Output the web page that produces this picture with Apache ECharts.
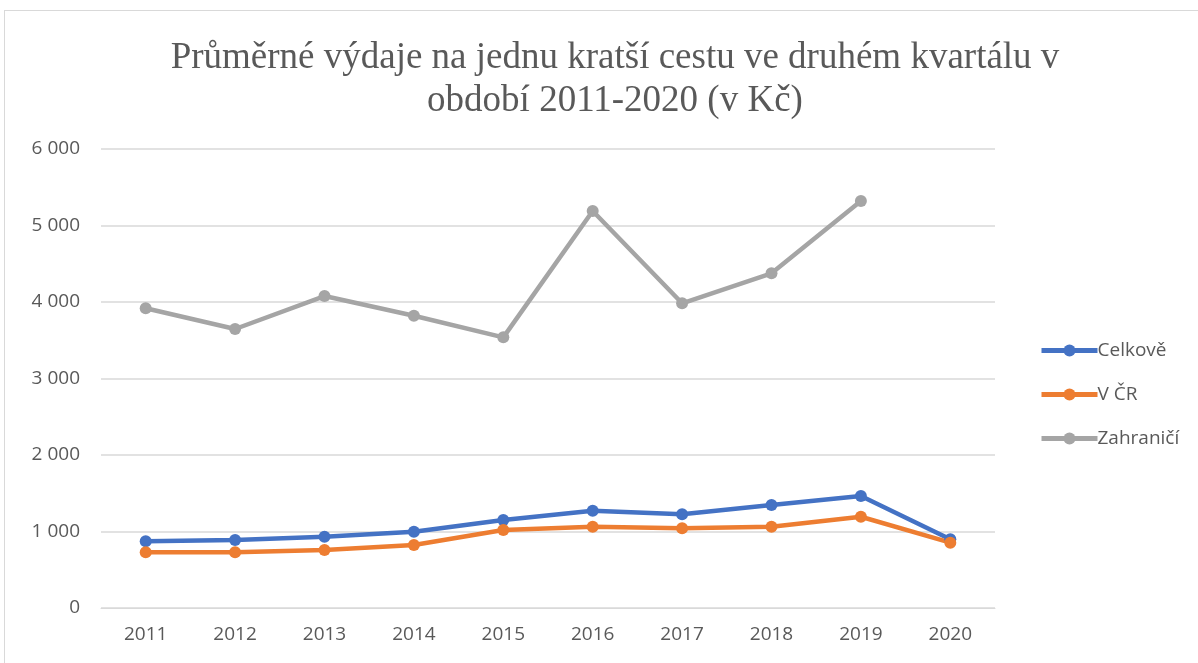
<!DOCTYPE html>
<html>
<head>
<meta charset="utf-8">
<script src="https://cdn.jsdelivr.net/npm/echarts@6/dist/echarts.min.js"></script>
<style>
    html, body { margin: 0; padding: 0; background: #fff; }
    .frame {
        position: absolute; left: 4px; top: 10px; width: 1200px; height: 660px;
        border: 1px solid #d9d9d9; box-sizing: border-box;
    }
    #chart { position: absolute; left: 0; top: 0; width: 1198px; height: 663px; }
</style>
</head>
<body>
<div class="frame"></div>
<div id="chart"></div>
<script>
    const years = ['2011', '2012', '2013', '2014', '2015', '2016', '2017', '2018', '2019', '2020'];
    const celkove = [872, 889, 932, 997, 1150, 1272, 1225, 1346, 1464, 898];
    const vCR = [728, 728, 758, 824, 1020, 1063, 1041, 1063, 1193, 854];
    const zahranici = [3918, 3647, 4078, 3821, 3538, 5190, 3983, 4375, 5320, null];
    const yTicks = [0, 1000, 2000, 3000, 4000, 5000, 6000];

    const myChart = echarts.init(document.getElementById('chart'));

    function makeSeries(name, data, color) {
        return {
            name: name,
            type: 'line',
            data: data,
            symbol: 'circle',
            symbolSize: 12,
            lineStyle: { width: 4.5, color: color },
            itemStyle: { color: color },
            connectNulls: false
        };
    }

    const options = {
        animation: false,
        color: ['#4472C4', '#ED7D31', '#A5A5A5'],
        title: {
            text: 'Průměrné výdaje na jednu kratší cestu ve druhém kvartálu v\nobdobí 2011-2020 (v Kč)',
            left: 610,
            top: 32,
            textAlign: 'center',
            textStyle: {
                fontFamily: 'Liberation Serif',
                fontWeight: 'normal',
                fontSize: 37,
                lineHeight: 43,
                color: '#595959'
            }
        },
        legend: {
            orient: 'vertical',
            left: 1034,
            top: 336,
            itemGap: 25,
            itemWidth: 56,
            itemHeight: 15,
            data: ['Celkově', 'V ČR', 'Zahraničí'],
            lineStyle: { width: 5 },
            textStyle: {
                fontFamily: 'Open Sans',
                fontSize: 19,
                color: '#595959',
                padding: [0, 0, 0, -5]
            }
        },
        grid: {
            left: 101,
            right: 203,
            top: 149,
            bottom: 55,
            containLabel: false
        },
        xAxis: {
            type: 'category',
            data: years,
            boundaryGap: true,
            axisLine: { lineStyle: { color: '#d9d9d9', width: 1 } },
            axisTick: { show: false },
            axisLabel: {
                color: '#595959',
                fontFamily: 'Open Sans',
                fontSize: 19,
                margin: 17
            }
        },
        yAxis: {
            type: 'value',
            min: yTicks[0],
            max: yTicks[yTicks.length - 1],
            interval: 1000,
            axisLine: { show: false },
            axisTick: { show: false },
            splitLine: { lineStyle: { color: '#d9d9d9', width: 1.5 } },
            axisLabel: {
                color: '#595959',
                fontFamily: 'Open Sans',
                fontSize: 19,
                margin: 21,
                formatter: function (v) {
                    return v >= 1000 ? Math.floor(v / 1000) + ' ' + String(v % 1000).padStart(3, '0') : String(v);
                }
            }
        },
        series: [
            makeSeries('Celkově', celkove, '#4472C4'),
            makeSeries('V ČR', vCR, '#ED7D31'),
            makeSeries('Zahraničí', zahranici, '#A5A5A5')
        ]
    };
    myChart.setOption(options);
</script>
</body>
</html>
